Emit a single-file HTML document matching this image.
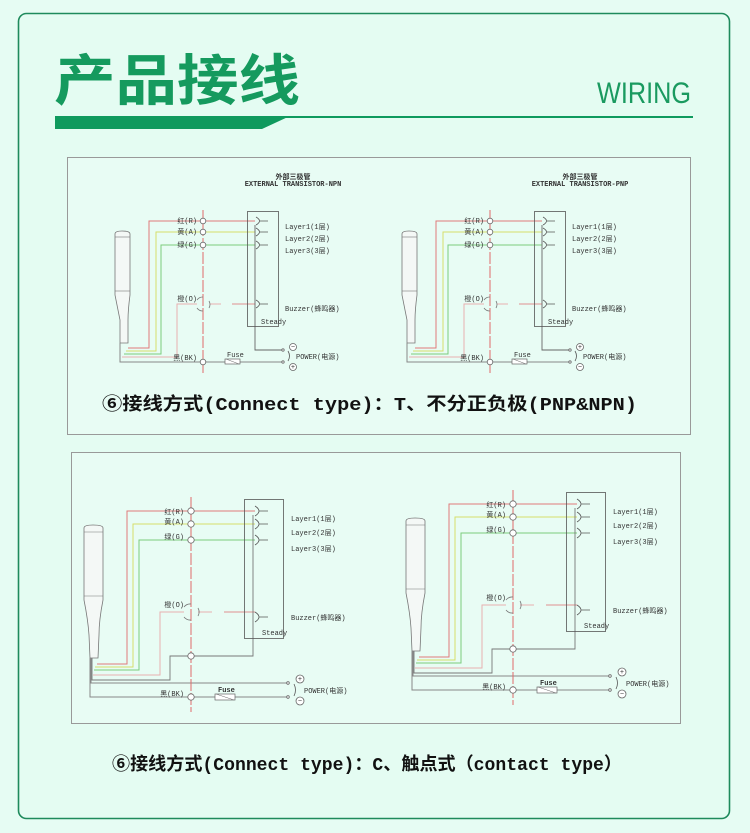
<!DOCTYPE html>
<html><head><meta charset="utf-8"><style>
html,body{margin:0;padding:0;background:#e6fcf3;}
svg{display:block}
.t{font-family:"Liberation Sans","Noto Sans CJK SC",sans-serif;}
.m{font-family:"Liberation Mono","Noto Sans CJK SC",monospace;}
.s{font-family:"Liberation Mono","Noto Sans CJK SC",monospace;font-size:7px;fill:#333;}
</style></head><body>
<svg width="750" height="833" viewBox="0 0 750 833" xmlns="http://www.w3.org/2000/svg">
<rect x="0" y="0" width="750" height="833" fill="#e6fcf3"/>
<rect x="18.5" y="13.5" width="711" height="805" rx="8" fill="#e4fcf2" stroke="#1e8a5c" stroke-width="1.6"/>
<text x="54" y="100" font-size="55" font-weight="bold" fill="#159a5e" textLength="246" lengthAdjust="spacingAndGlyphs" style="font-family:'Noto Sans CJK SC',sans-serif">产品接线</text>
<text x="597" y="103" class="t" font-size="30" fill="#1a9a60" textLength="94" lengthAdjust="spacingAndGlyphs">WIRING</text>
<polygon points="55,116 290,116 262,129 55,129" fill="#0f9a5e"/>
<rect x="55" y="116" width="638" height="2" fill="#0f9a5e"/>

<rect x="67.5" y="157.5" width="623" height="277" fill="#e8fcf4" stroke="#999" stroke-width="1"/>
<rect x="71.5" y="452.5" width="609" height="271" fill="#e8fcf4" stroke="#999" stroke-width="1"/>

<!-- TOP LEFT -->
<g>
<text x="293" y="179" class="s" font-size="5" text-anchor="middle" font-weight="bold">外部三极管</text>
<text x="293" y="186" class="s" font-size="4.5" text-anchor="middle" font-weight="bold">EXTERNAL TRANSISTOR-NPN</text>
<path d="M115,234 Q115,231 122,231 Q130,231 130,234 L130,295 Q128,310 128,320 L128,343 L120,343 L120,320 Q118,310 115,295 Z" fill="#f4f8f6" stroke="#777" stroke-width="0.8"/>
<line x1="115" y1="237" x2="130" y2="237" stroke="#777" stroke-width="0.6"/>
<line x1="115" y1="291" x2="130" y2="291" stroke="#777" stroke-width="0.6"/>
<polyline points="128,348 149,348 149,221 255,221" fill="none" stroke="#e07a7a" stroke-width="1"/>
<polyline points="126,351 156,351 156,232 255,232" fill="none" stroke="#d6de6a" stroke-width="1"/>
<polyline points="124,354 161,354 161,245 255,245" fill="none" stroke="#7ccc7c" stroke-width="1"/>
<polyline points="122,357 177,357 177,304 197,304" fill="none" stroke="#e8b0b0" stroke-width="1"/>
<line x1="210" y1="304" x2="221" y2="304" stroke="#e8b0b0" stroke-width="1"/>
<line x1="232" y1="304" x2="255" y2="304" stroke="#e09090" stroke-width="1"/>
<polyline points="120,343 120,362 225,362" fill="none" stroke="#888" stroke-width="1"/>
<line x1="240" y1="362" x2="283" y2="362" stroke="#888" stroke-width="1"/>
<rect x="225" y="359" width="15" height="5" fill="#fff" stroke="#666" stroke-width="0.7"/>
<line x1="226" y1="359" x2="239" y2="364" stroke="#666" stroke-width="0.5"/>
<text x="227" y="357" class="s" font-size="4.5">Fuse</text>
<polyline points="255,225 255,350 283,350" fill="none" stroke="#666" stroke-width="0.9"/>
<line x1="203" y1="210" x2="203" y2="373" stroke="#e06a6a" stroke-width="1" stroke-dasharray="12,2"/>
<g fill="#fff" stroke="#666" stroke-width="0.8">
<circle cx="203" cy="221" r="2.8"/><circle cx="203" cy="232" r="2.8"/><circle cx="203" cy="245" r="2.8"/><circle cx="203" cy="362" r="2.8"/>
<circle cx="283" cy="350" r="1.2"/><circle cx="283" cy="362" r="1.2"/>
<circle cx="293" cy="347" r="3.5"/><circle cx="293" cy="367" r="3.5"/>
</g>
<path d="M197,300 A7,7 0 0 1 203,297 M203,311 A7,7 0 0 1 197,308 M209,301 A7,7 0 0 1 209,308" fill="none" stroke="#777" stroke-width="0.8"/>
<g fill="none" stroke="#555" stroke-width="0.8">
<path d="M256,217 Q263,221 256,225 M260,221 L268,221"/>
<path d="M256,228 Q263,232 256,236 M260,232 L268,232"/>
<path d="M256,241 Q263,245 256,249 M260,245 L268,245"/>
<path d="M256,300 Q263,304 256,308 M260,304 L268,304"/>
<path d="M288,351 Q291,356 288,361"/>
</g>
<rect x="247.5" y="211.5" width="31" height="115" fill="none" stroke="#555" stroke-width="0.8"/>
<text x="197" y="223" class="s" text-anchor="end">红(R)</text>
<text x="197" y="234" class="s" text-anchor="end">黄(A)</text>
<text x="197" y="247" class="s" text-anchor="end">绿(G)</text>
<text x="197" y="301" class="s" text-anchor="end">橙(O)</text>
<text x="197" y="360" class="s" text-anchor="end">黑(BK)</text>
<text x="285" y="229" class="s">Layer1(1层)</text>
<text x="285" y="241" class="s">Layer2(2层)</text>
<text x="285" y="253" class="s">Layer3(3层)</text>
<text x="285" y="311" class="s">Buzzer(蜂鸣器)</text>
<text x="261" y="324" class="s">Steady</text>
<text x="296" y="359" class="s" font-size="8">POWER(电源)</text>
<text x="293" y="349" class="s" font-size="5" text-anchor="middle">−</text>
<text x="293" y="369" class="s" font-size="5" text-anchor="middle">+</text>
</g>

<!-- TOP RIGHT -->
<g transform="translate(287,0)">
<text x="293" y="179" class="s" font-size="5" text-anchor="middle" font-weight="bold">外部三极管</text>
<text x="293" y="186" class="s" font-size="4.5" text-anchor="middle" font-weight="bold">EXTERNAL TRANSISTOR-PNP</text>
<path d="M115,234 Q115,231 122,231 Q130,231 130,234 L130,295 Q128,310 128,320 L128,343 L120,343 L120,320 Q118,310 115,295 Z" fill="#f4f8f6" stroke="#777" stroke-width="0.8"/>
<line x1="115" y1="237" x2="130" y2="237" stroke="#777" stroke-width="0.6"/>
<line x1="115" y1="291" x2="130" y2="291" stroke="#777" stroke-width="0.6"/>
<polyline points="128,348 149,348 149,221 255,221" fill="none" stroke="#e07a7a" stroke-width="1"/>
<polyline points="126,351 156,351 156,232 255,232" fill="none" stroke="#d6de6a" stroke-width="1"/>
<polyline points="124,354 161,354 161,245 255,245" fill="none" stroke="#7ccc7c" stroke-width="1"/>
<polyline points="122,357 177,357 177,304 197,304" fill="none" stroke="#e8b0b0" stroke-width="1"/>
<line x1="210" y1="304" x2="221" y2="304" stroke="#e8b0b0" stroke-width="1"/>
<line x1="232" y1="304" x2="255" y2="304" stroke="#e09090" stroke-width="1"/>
<polyline points="120,343 120,362 225,362" fill="none" stroke="#888" stroke-width="1"/>
<line x1="240" y1="362" x2="283" y2="362" stroke="#888" stroke-width="1"/>
<rect x="225" y="359" width="15" height="5" fill="#fff" stroke="#666" stroke-width="0.7"/>
<line x1="226" y1="359" x2="239" y2="364" stroke="#666" stroke-width="0.5"/>
<text x="227" y="357" class="s" font-size="4.5">Fuse</text>
<polyline points="255,225 255,350 283,350" fill="none" stroke="#666" stroke-width="0.9"/>
<line x1="203" y1="210" x2="203" y2="373" stroke="#e06a6a" stroke-width="1" stroke-dasharray="12,2"/>
<g fill="#fff" stroke="#666" stroke-width="0.8">
<circle cx="203" cy="221" r="2.8"/><circle cx="203" cy="232" r="2.8"/><circle cx="203" cy="245" r="2.8"/><circle cx="203" cy="362" r="2.8"/>
<circle cx="283" cy="350" r="1.2"/><circle cx="283" cy="362" r="1.2"/>
<circle cx="293" cy="347" r="3.5"/><circle cx="293" cy="367" r="3.5"/>
</g>
<path d="M197,300 A7,7 0 0 1 203,297 M203,311 A7,7 0 0 1 197,308 M209,301 A7,7 0 0 1 209,308" fill="none" stroke="#777" stroke-width="0.8"/>
<g fill="none" stroke="#555" stroke-width="0.8">
<path d="M256,217 Q263,221 256,225 M260,221 L268,221"/>
<path d="M256,228 Q263,232 256,236 M260,232 L268,232"/>
<path d="M256,241 Q263,245 256,249 M260,245 L268,245"/>
<path d="M256,300 Q263,304 256,308 M260,304 L268,304"/>
<path d="M288,351 Q291,356 288,361"/>
</g>
<rect x="247.5" y="211.5" width="31" height="115" fill="none" stroke="#555" stroke-width="0.8"/>
<text x="197" y="223" class="s" text-anchor="end">红(R)</text>
<text x="197" y="234" class="s" text-anchor="end">黄(A)</text>
<text x="197" y="247" class="s" text-anchor="end">绿(G)</text>
<text x="197" y="301" class="s" text-anchor="end">橙(O)</text>
<text x="197" y="360" class="s" text-anchor="end">黑(BK)</text>
<text x="285" y="229" class="s">Layer1(1层)</text>
<text x="285" y="241" class="s">Layer2(2层)</text>
<text x="285" y="253" class="s">Layer3(3层)</text>
<text x="285" y="311" class="s">Buzzer(蜂鸣器)</text>
<text x="261" y="324" class="s">Steady</text>
<text x="296" y="359" class="s" font-size="8">POWER(电源)</text>
<text x="293" y="349" class="s" font-size="5" text-anchor="middle">+</text>
<text x="293" y="369" class="s" font-size="5" text-anchor="middle">−</text>
</g>

<text x="102" y="410" class="m" font-size="18" font-weight="bold" fill="#111" textLength="535" lengthAdjust="spacingAndGlyphs">⑥接线方式(Connect type)：T、不分正负极(PNP&amp;NPN)</text>

<!-- BOTTOM LEFT -->
<g>
<path d="M84,528 Q84,525 93,525 Q103,525 103,528 L103,600 Q99,620 99,635 L98,658 L90,658 L89,635 Q88,620 84,600 Z" fill="#f4f8f6" stroke="#777" stroke-width="0.8"/>
<line x1="84" y1="532" x2="103" y2="532" stroke="#777" stroke-width="0.6"/>
<line x1="84" y1="596" x2="103" y2="596" stroke="#777" stroke-width="0.6"/>
<polyline points="97,664 127,664 127,511 255,511" fill="none" stroke="#e07a7a" stroke-width="1"/>
<polyline points="95,667 133,667 133,524 255,524" fill="none" stroke="#d6de6a" stroke-width="1"/>
<polyline points="94,670 139,670 139,540 255,540" fill="none" stroke="#7ccc7c" stroke-width="1"/>
<polyline points="93,675 160,675 160,612 184,612" fill="none" stroke="#e8b0b0" stroke-width="1"/>
<line x1="198" y1="612" x2="212" y2="612" stroke="#e8b0b0" stroke-width="1"/>
<line x1="224" y1="612" x2="255" y2="612" stroke="#e09090" stroke-width="1"/>
<polyline points="92,658 92,680 170,680 170,656 253,656 253,515" fill="none" stroke="#777" stroke-width="0.9"/>
<polyline points="91,658 91,683 288,683" fill="none" stroke="#888" stroke-width="1"/>
<polyline points="90,658 90,697 215,697" fill="none" stroke="#888" stroke-width="1"/>
<line x1="235" y1="697" x2="288" y2="697" stroke="#888" stroke-width="1"/>
<rect x="215" y="694" width="20" height="6" fill="#fff" stroke="#666" stroke-width="0.7"/>
<line x1="216" y1="694" x2="234" y2="700" stroke="#666" stroke-width="0.5"/>
<text x="218" y="692" class="s" font-size="5.5" font-weight="bold">Fuse</text>
<line x1="191" y1="497" x2="191" y2="712" stroke="#e06a6a" stroke-width="1" stroke-dasharray="12,2"/>
<g fill="#fff" stroke="#666" stroke-width="0.8">
<circle cx="191" cy="511" r="3.2"/><circle cx="191" cy="524" r="3.2"/><circle cx="191" cy="540" r="3.2"/><circle cx="191" cy="656" r="3.2"/><circle cx="191" cy="697" r="3.2"/>
<circle cx="288" cy="683" r="1.3"/><circle cx="288" cy="697" r="1.3"/>
<circle cx="300" cy="679" r="4"/><circle cx="300" cy="701" r="4"/>
</g>
<path d="M184,607 A8,8 0 0 1 191,604 M191,620 A8,8 0 0 1 184,617 M198,608 A8,8 0 0 1 198,616" fill="none" stroke="#777" stroke-width="0.8"/>
<g fill="none" stroke="#555" stroke-width="0.8">
<path d="M255,506 Q263,511 255,516 M259,511 L268,511"/>
<path d="M255,519 Q263,524 255,529 M259,524 L268,524"/>
<path d="M255,535 Q263,540 255,545 M259,540 L268,540"/>
<path d="M255,612 Q263,617 255,622 M259,617 L268,617"/>
<path d="M294,684 Q297,690 294,696"/>
</g>
<rect x="244.5" y="499.5" width="39" height="139" fill="none" stroke="#555" stroke-width="0.8"/>
<text x="184" y="514" class="s" text-anchor="end">红(R)</text>
<text x="184" y="524" class="s" text-anchor="end">黄(A)</text>
<text x="184" y="539" class="s" text-anchor="end">绿(G)</text>
<text x="184" y="607" class="s" text-anchor="end">橙(O)</text>
<text x="184" y="696" class="s" text-anchor="end">黑(BK)</text>
<text x="291" y="521" class="s">Layer1(1层)</text>
<text x="291" y="535" class="s">Layer2(2层)</text>
<text x="291" y="551" class="s">Layer3(3层)</text>
<text x="291" y="620" class="s">Buzzer(蜂鸣器)</text>
<text x="262" y="635" class="s">Steady</text>
<text x="304" y="693" class="s" font-size="8.5">POWER(电源)</text>
<text x="300" y="681" class="s" font-size="5" text-anchor="middle">+</text>
<text x="300" y="703" class="s" font-size="5" text-anchor="middle">−</text>
</g>

<!-- BOTTOM RIGHT -->
<g transform="translate(322,-7)">
<path d="M84,528 Q84,525 93,525 Q103,525 103,528 L103,600 Q99,620 99,635 L98,658 L90,658 L89,635 Q88,620 84,600 Z" fill="#f4f8f6" stroke="#777" stroke-width="0.8"/>
<line x1="84" y1="532" x2="103" y2="532" stroke="#777" stroke-width="0.6"/>
<line x1="84" y1="596" x2="103" y2="596" stroke="#777" stroke-width="0.6"/>
<polyline points="97,664 127,664 127,511 255,511" fill="none" stroke="#e07a7a" stroke-width="1"/>
<polyline points="95,667 133,667 133,524 255,524" fill="none" stroke="#d6de6a" stroke-width="1"/>
<polyline points="94,670 139,670 139,540 255,540" fill="none" stroke="#7ccc7c" stroke-width="1"/>
<polyline points="93,675 160,675 160,612 184,612" fill="none" stroke="#e8b0b0" stroke-width="1"/>
<line x1="198" y1="612" x2="212" y2="612" stroke="#e8b0b0" stroke-width="1"/>
<line x1="224" y1="612" x2="255" y2="612" stroke="#e09090" stroke-width="1"/>
<polyline points="92,658 92,680 170,680 170,656 253,656 253,515" fill="none" stroke="#777" stroke-width="0.9"/>
<polyline points="91,658 91,683 288,683" fill="none" stroke="#888" stroke-width="1"/>
<polyline points="90,658 90,697 215,697" fill="none" stroke="#888" stroke-width="1"/>
<line x1="235" y1="697" x2="288" y2="697" stroke="#888" stroke-width="1"/>
<rect x="215" y="694" width="20" height="6" fill="#fff" stroke="#666" stroke-width="0.7"/>
<line x1="216" y1="694" x2="234" y2="700" stroke="#666" stroke-width="0.5"/>
<text x="218" y="692" class="s" font-size="5.5" font-weight="bold">Fuse</text>
<line x1="191" y1="497" x2="191" y2="712" stroke="#e06a6a" stroke-width="1" stroke-dasharray="12,2"/>
<g fill="#fff" stroke="#666" stroke-width="0.8">
<circle cx="191" cy="511" r="3.2"/><circle cx="191" cy="524" r="3.2"/><circle cx="191" cy="540" r="3.2"/><circle cx="191" cy="656" r="3.2"/><circle cx="191" cy="697" r="3.2"/>
<circle cx="288" cy="683" r="1.3"/><circle cx="288" cy="697" r="1.3"/>
<circle cx="300" cy="679" r="4"/><circle cx="300" cy="701" r="4"/>
</g>
<path d="M184,607 A8,8 0 0 1 191,604 M191,620 A8,8 0 0 1 184,617 M198,608 A8,8 0 0 1 198,616" fill="none" stroke="#777" stroke-width="0.8"/>
<g fill="none" stroke="#555" stroke-width="0.8">
<path d="M255,506 Q263,511 255,516 M259,511 L268,511"/>
<path d="M255,519 Q263,524 255,529 M259,524 L268,524"/>
<path d="M255,535 Q263,540 255,545 M259,540 L268,540"/>
<path d="M255,612 Q263,617 255,622 M259,617 L268,617"/>
<path d="M294,684 Q297,690 294,696"/>
</g>
<rect x="244.5" y="499.5" width="39" height="139" fill="none" stroke="#555" stroke-width="0.8"/>
<text x="184" y="514" class="s" text-anchor="end">红(R)</text>
<text x="184" y="524" class="s" text-anchor="end">黄(A)</text>
<text x="184" y="539" class="s" text-anchor="end">绿(G)</text>
<text x="184" y="607" class="s" text-anchor="end">橙(O)</text>
<text x="184" y="696" class="s" text-anchor="end">黑(BK)</text>
<text x="291" y="521" class="s">Layer1(1层)</text>
<text x="291" y="535" class="s">Layer2(2层)</text>
<text x="291" y="551" class="s">Layer3(3层)</text>
<text x="291" y="620" class="s">Buzzer(蜂鸣器)</text>
<text x="262" y="635" class="s">Steady</text>
<text x="304" y="693" class="s" font-size="8.5">POWER(电源)</text>
<text x="300" y="681" class="s" font-size="5" text-anchor="middle">+</text>
<text x="300" y="703" class="s" font-size="5" text-anchor="middle">−</text>
</g>

<text x="112" y="770" class="m" font-size="18" font-weight="bold" fill="#111" textLength="510" lengthAdjust="spacingAndGlyphs">⑥接线方式(Connect type)：C、触点式（contact type）</text>
</svg>
</body></html>
